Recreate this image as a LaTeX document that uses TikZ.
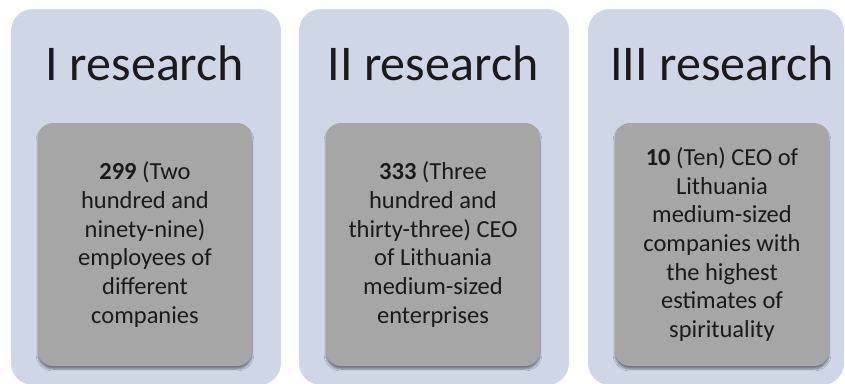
\documentclass[tikz,border=0pt]{standalone}
\usepackage{fontspec}
\setmainfont{Carlito}
\usepackage{xcolor}
\definecolor{PanelBlue}{HTML}{CFD7E7}
\definecolor{BoxGray}{HTML}{A6A6A6}
\definecolor{InkDark}{HTML}{1A1A1A}
\usepackage{tikz}
\usetikzlibrary{positioning,shadows.blur}

\tikzset{
  panel/.style={rectangle, rounded corners=22pt, fill=PanelBlue, minimum height=376pt, inner sep=0pt},
  title/.style={anchor=base, text=InkDark, font=\fontsize{50}{60}\selectfont},
  sample/.style={rectangle, rounded corners=15pt, fill=BoxGray, minimum width=214pt, minimum height=243pt,
    align=center, text=InkDark, font=\fontsize{24.5}{28.7}\selectfont,
    blur shadow={shadow xshift=0pt, shadow yshift=-3pt, shadow blur steps=6, shadow opacity=45}},
}

\begin{document}
\begin{tikzpicture}[x=1pt, y=-1pt]
        \useasboundingbox[fill=white] (0,0) rectangle (845,383);

        % three panels
        \node[panel, minimum width=270pt] (p1) at (146,197) {};
        \node[panel, minimum width=270pt] (p2) at (434,197) {};
        \node[panel, minimum width=256pt] (p3) at (716,197) {};

        \node[title] (t1) at (145,80) {I research};
        \node[title] (t2) at (433,80) {II research};
        \node[title] (t3) at (722,80) {III research};

        \node[sample] (s1) at (145,244.5) {\textbf{299} (Two\\hundred and\\ninety-nine)\\employees of\\different\\companies};
        \node[sample] (s2) at (433,244.5) {\textbf{333} (Three\\hundred and\\thirty-three) CEO\\of Lithuania\\medium-sized\\enterprises};
        \node[sample] (s3) at (722,244.5) {\textbf{10} (Ten) CEO of\\Lithuania\\medium-sized\\companies with\\the highest\\estimates of\\spirituality};
    \end{tikzpicture}
\end{document}
